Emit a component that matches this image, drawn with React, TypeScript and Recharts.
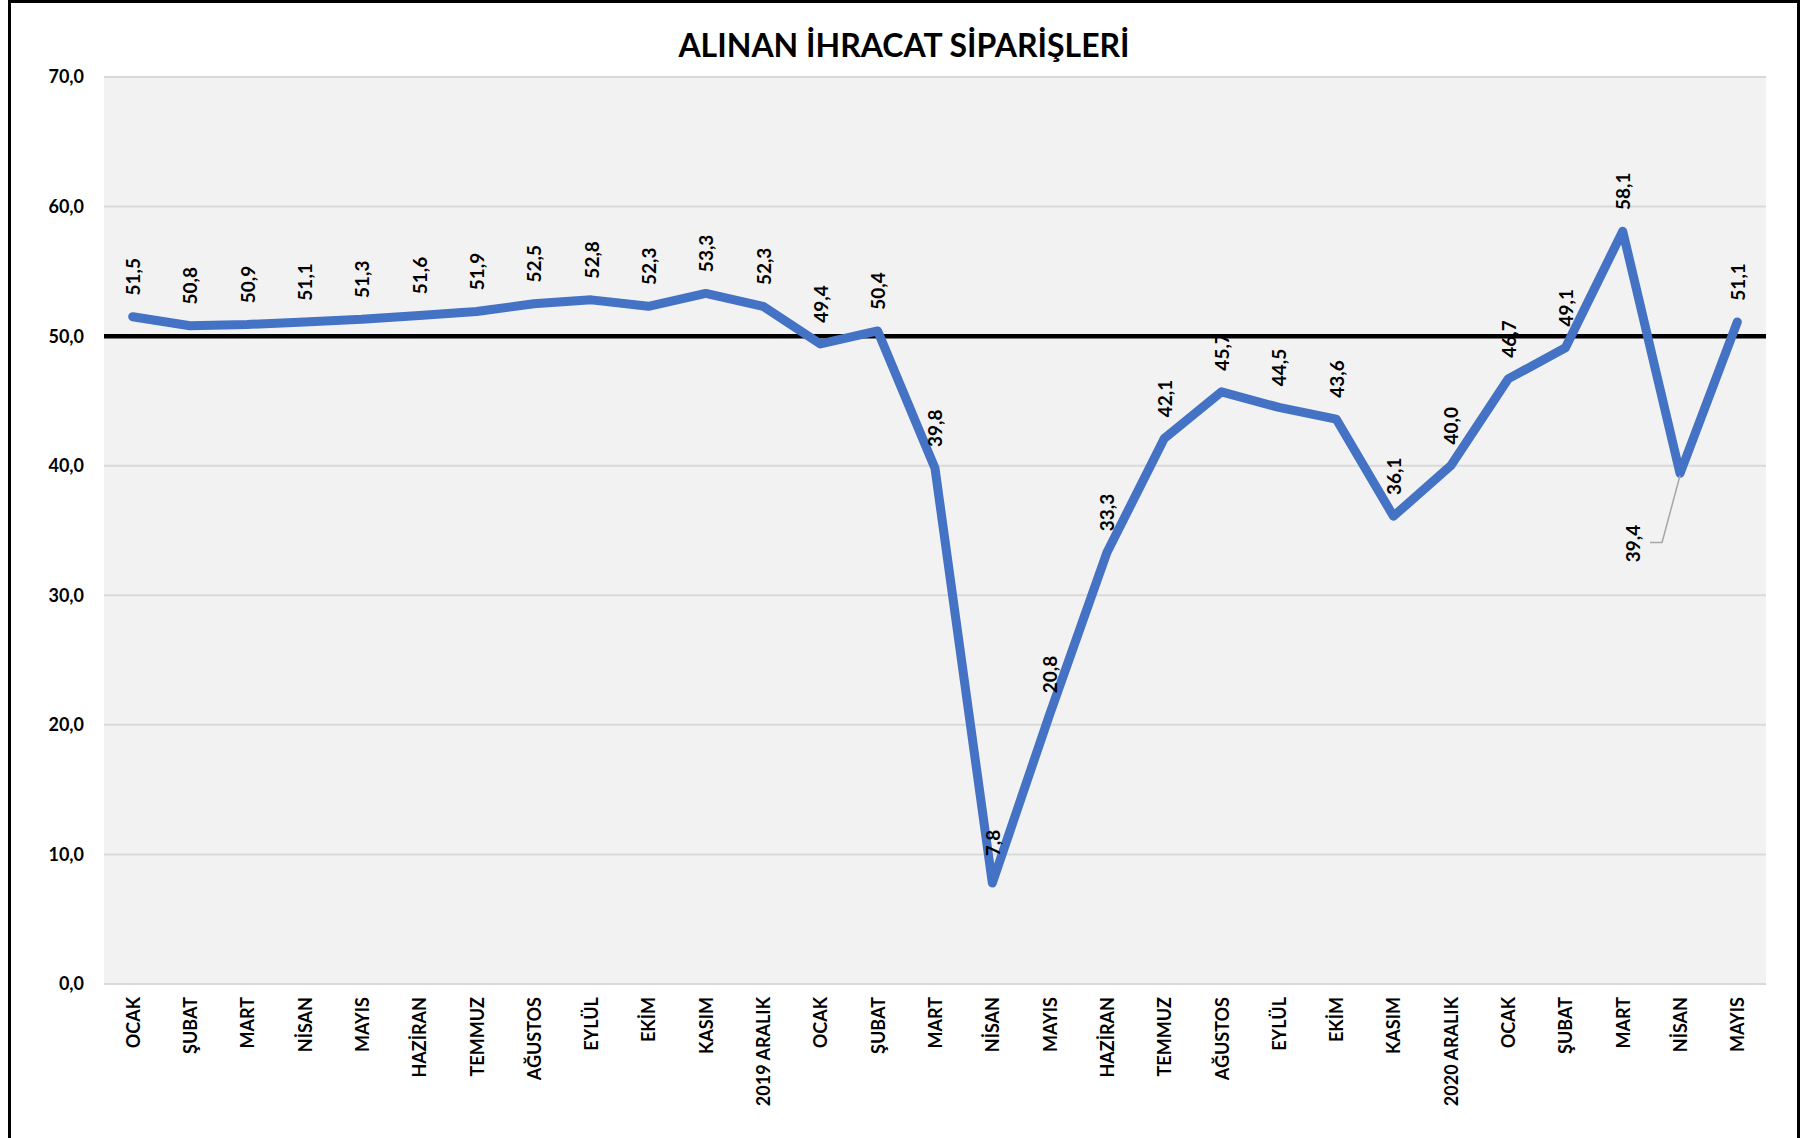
import {
	CartesianGrid,
	LabelList,
	Line,
	LineChart,
	ReferenceLine,
	XAxis,
	YAxis,
} from "recharts";

const MONTHS = [
	"OCAK", "ŞUBAT", "MART", "NİSAN", "MAYIS", "HAZİRAN", "TEMMUZ", "AĞUSTOS",
	"EYLÜL", "EKİM", "KASIM", "2019 ARALIK",
	"OCAK", "ŞUBAT", "MART", "NİSAN", "MAYIS", "HAZİRAN", "TEMMUZ", "AĞUSTOS",
	"EYLÜL", "EKİM", "KASIM", "2020 ARALIK",
	"OCAK", "ŞUBAT", "MART", "NİSAN", "MAYIS",
];

const ORDERS = [
	51.5, 50.8, 50.9, 51.1, 51.3, 51.6, 51.9, 52.5, 52.8, 52.3, 53.3, 52.3,
	49.4, 50.4, 39.8, 7.8, 20.8, 33.3, 42.1, 45.7, 44.5, 43.6, 36.1, 40.0,
	46.7, 49.1, 58.1, 39.4, 51.1,
];

const Y_TICKS = [0, 10, 20, 30, 40, 50, 60, 70];

// label drawn below with a leader line in the original
const CALLOUT_INDEX = 27;

const FONT = "Lato, 'Open Sans', sans-serif";

const data = MONTHS.map((m, i) => ({ idx: i, month: m, value: ORDERS[i] }));

const fmt = (v: number) => v.toFixed(1).replace(".", ",");

function MonthTick(props: any) {
	const { x, y, payload } = props;
	const label = MONTHS[payload.value] ?? "";
	return (
		<text
			x={x}
			y={y}
			transform={`rotate(-90, ${x}, ${y})`}
			textAnchor="end"
			dominantBaseline="central"
			fontFamily={FONT}
			fontWeight={700}
			fontSize={18}
			fill="#000"
		>
			{label}
		</text>
	);
}

function ValueLabel(props: any) {
	const { x, y, value, index } = props;
	if (index === CALLOUT_INDEX) {
		const lx = x - 48;
		const ly = y + 70;
		return (
			<g>
				<polyline
					points={`${x},${y + 2} ${x - 18},${y + 69} ${x - 30},${y + 69}`}
					fill="none"
					stroke="#a6a6a6"
					strokeWidth={1.5}
				/>
				<text
					x={lx}
					y={ly}
					transform={`rotate(-90, ${lx}, ${ly})`}
					textAnchor="middle"
					dominantBaseline="central"
					fontFamily={FONT}
					fontWeight={700}
					fontSize={19}
					fill="#000"
				>
					{fmt(value)}
				</text>
			</g>
		);
	}
	const ly = y - 40;
	return (
		<text
			x={x}
			y={ly}
			transform={`rotate(-90, ${x}, ${ly})`}
			textAnchor="middle"
			dominantBaseline="central"
			fontFamily={FONT}
			fontWeight={700}
			fontSize={19}
			fill="#000"
		>
			{fmt(value)}
		</text>
	);
}

export default function App() {
	return (
		<div
			style={{
				position: "absolute",
				left: 0,
				top: 0,
				width: 1812,
				height: 1138,
				background: "#fff",
				overflow: "hidden",
			}}
		>
			<div
				style={{
					position: "absolute",
					left: 8,
					top: 0,
					width: 1792,
					height: 1160,
					border: "3px solid #000",
					boxSizing: "border-box",
				}}
			/>
			<div
				style={{
					position: "absolute",
					left: 0,
					top: 25,
					width: 1808,
					textAlign: "center",
					fontFamily: FONT,
					fontWeight: 700,
					fontSize: 32,
					color: "#000",
				}}
			>
				ALINAN İHRACAT SİPARİŞLERİ
			</div>
			<div style={{ position: "absolute", left: 0, top: 0 }}>
				<LineChart
					width={1812}
					height={1138}
					data={data}
					margin={{ top: 77, right: 46, left: 0, bottom: 0 }}
				>
					<CartesianGrid
						vertical={false}
						fill="#f2f2f2"
						stroke="#d9d9d9"
						strokeWidth={2}
					/>
					<XAxis
						dataKey="idx"
						type="category"
						height={154}
						padding={{ left: 28.66, right: 28.66 }}
						axisLine={false}
						tickLine={false}
						tickSize={0}
						tickMargin={13}
						interval={0}
						tick={<MonthTick />}
					/>
					<YAxis
						width={104}
						domain={[0, 70]}
						ticks={Y_TICKS}
						axisLine={false}
						tickLine={false}
						tickSize={0}
						tickMargin={20}
						tickFormatter={fmt}
						tick={{
							fill: "#000",
							fontSize: 18,
							fontWeight: 700,
							fontFamily: FONT,
						}}
					/>
					<ReferenceLine y={50} stroke="#000" strokeWidth={4.5} />
					<Line
						type="linear"
						dataKey="value"
						stroke="#4472c4"
						strokeWidth={9}
						strokeLinejoin="round"
						strokeLinecap="round"
						dot={false}
						activeDot={false}
						isAnimationActive={false}
					>
						<LabelList dataKey="value" content={<ValueLabel />} />
					</Line>
				</LineChart>
			</div>
		</div>
	);
}
